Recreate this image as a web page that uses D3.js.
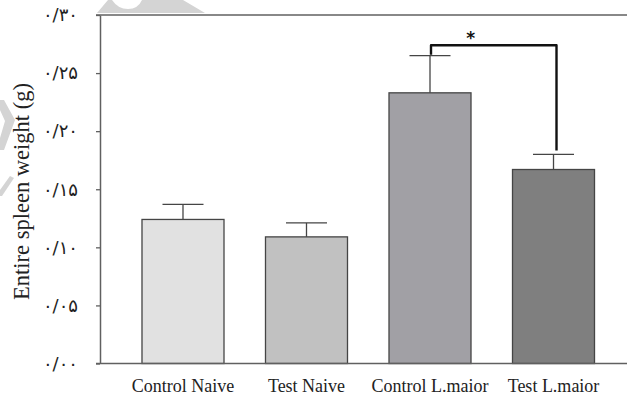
<!DOCTYPE html>
<html>
<head>
<meta charset="utf-8">
<script src="https://cdn.jsdelivr.net/npm/d3@7"></script>
<style>
  html, body { margin: 0; padding: 0; background: #fff; }
  svg { display: block; }
</style>
</head>
<body>
<svg id="chart" width="627" height="397"></svg>
<script>
// Spleen weight per group: mean with standard error
const categories = ["Control Naive", "Test Naive", "Control L.maior", "Test L.maior"];
const means = [0.124, 0.109, 0.233, 0.167];
const errors = [0.013, 0.012, 0.032, 0.013];
const fills = ["#e1e1e1", "#c1c1c1", "#a1a0a5", "#7f7f7f"];
const yTicks = [0, 0.05, 0.10, 0.15, 0.20, 0.25, 0.30];
const yTitle = "Entire spleen weight (g)";
const sigPair = ["Control L.maior", "Test L.maior"];
const sigMark = "*";

const svg = d3.select("#chart");
const W = 627, H = 397;
const plotLeft = 100, plotTop = 15, plotBottom = 363.5;

const x = d3.scaleBand()
  .domain(categories)
  .range([plotLeft, 636.5])
  .paddingInner(0.336)
  .paddingOuter(0.34);

const y = d3.scaleLinear().domain([0, 0.30]).range([plotBottom, plotTop]);

// Persian digits with "/" as the decimal separator
const faDigits = "۰۱۲۳۴۵۶۷۸۹";
const faFormat = v => v.toFixed(2).replace(".", "/").replace(/\d/g, d => faDigits[+d]);

// faint background logo
const wm = svg.append("g").attr("fill", "#d4d4d4");
wm.append("path").attr("d", "M97,13 L108,0 L112,0 Q118,9 128,9 Q138,9 142,0 L183,0 L205,13 Z");
wm.append("path").attr("d", "M0,100 L4,100 L15,120 L4,150 L0,150 L0,138 L5,121 L0,110 Z");
wm.append("path").attr("d", "M0,190 L10,176 L14,178 L2,196 L0,196 Z");

// top frame line
svg.append("line")
  .attr("x1", 96).attr("x2", W).attr("y1", y(0.30)).attr("y2", y(0.30))
  .attr("stroke", "#606060").attr("stroke-width", 1.5);

// bars
const data = categories.map((c, i) => ({ c, m: means[i], e: errors[i], f: fills[i] }));
svg.append("g").selectAll("rect").data(data).join("rect")
  .attr("x", d => x(d.c))
  .attr("y", d => y(d.m))
  .attr("width", x.bandwidth())
  .attr("height", d => y(0) - y(d.m))
  .attr("fill", d => d.f)
  .attr("stroke", "#454545")
  .attr("stroke-width", 1.3);

// error bars (upper only)
const eb = svg.append("g").attr("stroke", "#454545").attr("stroke-width", 1.3);
const capHalf = 20.5;
data.forEach(d => {
  const cx = x(d.c) + x.bandwidth() / 2;
  eb.append("line").attr("x1", cx).attr("x2", cx).attr("y1", y(d.m)).attr("y2", y(d.m + d.e));
  eb.append("line").attr("x1", cx - capHalf).attr("x2", cx + capHalf)
    .attr("y1", y(d.m + d.e)).attr("y2", y(d.m + d.e));
});

// y axis
const yAxis = svg.append("g")
  .attr("transform", `translate(${plotLeft},0)`)
  .call(d3.axisLeft(y).tickValues(yTicks).tickSize(4).tickSizeOuter(0).tickPadding(18).tickFormat(faFormat));
yAxis.select(".domain").attr("stroke", "#606060").attr("stroke-width", 1.5);
yAxis.selectAll(".tick line").attr("stroke", "#606060").attr("stroke-width", 1.3);
yAxis.selectAll(".tick text")
  .attr("fill", "#222")
  .style("font-family", "'DejaVu Sans', sans-serif")
  .style("font-size", "18px");

// x axis
const xAxis = svg.append("g")
  .attr("transform", `translate(0,${plotBottom})`)
  .call(d3.axisBottom(x).tickSize(0).tickPadding(16));
xAxis.select(".domain").remove();
xAxis.selectAll(".tick text")
  .attr("fill", "#222")
  .style("font-family", "'Liberation Serif', serif")
  .style("font-size", "18px");

svg.append("line")
  .attr("x1", 96).attr("x2", W).attr("y1", y(0)).attr("y2", y(0))
  .attr("stroke", "#606060").attr("stroke-width", 1.5);

// y title
svg.append("text")
  .attr("transform", `translate(29,${(80 + 303) / 2}) rotate(-90)`)
  .attr("text-anchor", "middle")
  .attr("fill", "#222")
  .style("font-family", "'Liberation Serif', serif")
  .style("font-size", "22.5px")
  .text(yTitle);

// significance bracket
const i0 = categories.indexOf(sigPair[0]), i1 = categories.indexOf(sigPair[1]);
const bx0 = x(sigPair[0]) + x.bandwidth() / 2 + 1;
const bx1 = x(sigPair[1]) + x.bandwidth() / 2 + 3;
const by = y(0.274);
const bracket = d3.path();
bracket.moveTo(bx0, y(means[i0] + errors[i0]) - 1);
bracket.lineTo(bx0, by);
bracket.lineTo(bx1, by);
bracket.lineTo(bx1, y(means[i1] + errors[i1]) - 4);
svg.append("path")
  .attr("d", bracket.toString())
  .attr("fill", "none")
  .attr("stroke", "#111")
  .attr("stroke-width", 2.4)
  .attr("stroke-linejoin", "round");

svg.append("text")
  .attr("x", (bx0 + bx1) / 2 - 23)
  .attr("y", by - 1)
  .attr("text-anchor", "middle")
  .attr("fill", "#111")
  .style("font-family", "'DejaVu Sans', sans-serif")
  .style("font-weight", "bold")
  .style("font-size", "17px")
  .text(sigMark);
</script>
</body>
</html>
